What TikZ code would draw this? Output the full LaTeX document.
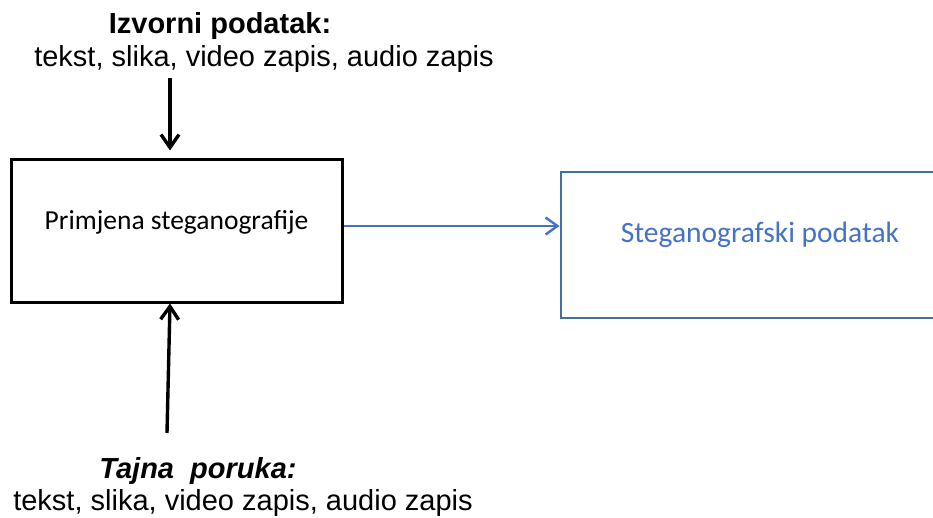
\documentclass[tikz,border=0pt]{standalone}
\usepackage{fontspec}
\setmainfont{Liberation Sans}
\newfontfamily\calibri{Carlito}
\usetikzlibrary{arrows.meta,positioning}

\definecolor{boxblue}{RGB}{65,113,156}
\definecolor{txtblue}{RGB}{68,114,196}

\tikzstyle{proc} = [draw=black, line width=3pt, minimum width=331pt, minimum height=142pt, inner sep=0, font=\calibri\fontsize{27.5}{32}\selectfont, text height=10pt, text depth=12pt]
\tikzstyle{result} = [draw=boxblue, line width=2.8pt, minimum width=398pt, minimum height=146pt, inner sep=0, text=txtblue, font=\calibri\fontsize{29.5}{34}\selectfont, text height=10pt, text depth=14pt]
\tikzstyle{lbl} = [anchor=base, inner sep=0, font=\fontsize{29}{34}\selectfont]
\tikzstyle{feed} = [draw=black, line width=3.4pt, -{Straight Barb[length=13pt,width=18pt,line width=3.4pt]}]
\tikzstyle{flow} = [draw=txtblue, line width=2.4pt, -{Straight Barb[length=12pt,width=17pt,line width=2.4pt]}]

\begin{document}
\begin{tikzpicture}[x=1pt,y=1pt]
\useasboundingbox (0,0) rectangle (933,517);

%   boxes
	\node[proc] (stego) at (176.5,286) {Primjena steganografije};
	\node[result] (podatak) at (760,272) {Steganografski podatak};

%   source text on top
	\node[lbl] (izvor) at (220,483) {\bfseries Izvorni podatak:};
	\node[lbl] (izvorvrste) at (264,450) {tekst, slika, video zapis, audio zapis};

%   secret message below
	\node[lbl] (tajna) at (198,39) {\bfseries\itshape Tajna\ \ poruka:};
	\node[lbl] (tajnavrste) at (243,7) {tekst, slika, video zapis, audio zapis};

%   arrows
	\coordinate (intop) at (170,439);
	\coordinate (inbot) at (167,84);
	\draw[feed] (intop) -- ([xshift=-6.5pt,yshift=8pt]stego.north);
	\draw[feed] (inbot) -- ([xshift=-6.5pt]stego.south);
	\draw[flow] ([yshift=5pt]stego.east) -- ([yshift=5pt]stego.east -| podatak.west);

\end{tikzpicture}
\end{document}
